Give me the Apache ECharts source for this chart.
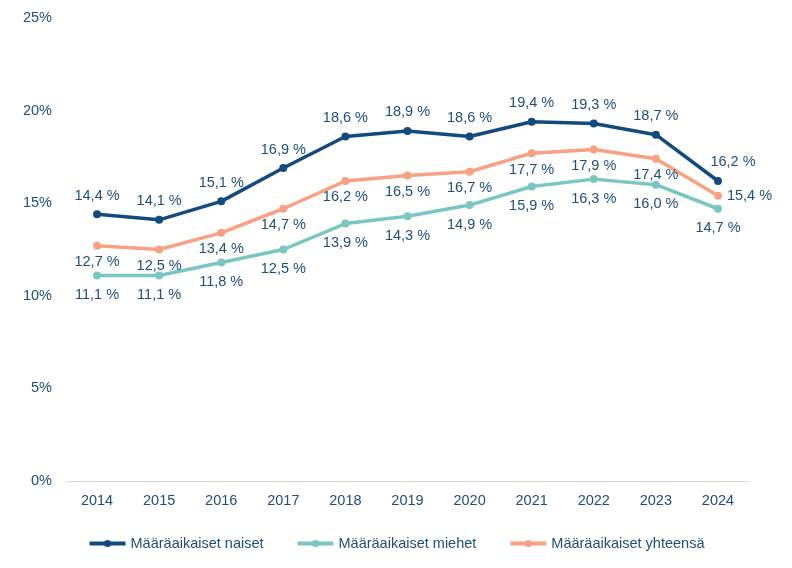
<!DOCTYPE html>
<html>
<head>
<meta charset="utf-8">
<script src="https://cdn.jsdelivr.net/npm/echarts@6/dist/echarts.min.js"></script>
<style>
    html, body { margin: 0; padding: 0; background: #fff; }
    #chart { width: 792px; height: 568px; }
</style>
</head>
<body>
<div id="chart"></div>
<script>
var years = ['2014', '2015', '2016', '2017', '2018', '2019', '2020', '2021', '2022', '2023', '2024'];
var naiset = [14.4, 14.1, 15.1, 16.9, 18.6, 18.9, 18.6, 19.4, 19.3, 18.7, 16.2];
var miehet = [11.1, 11.1, 11.8, 12.5, 13.9, 14.3, 14.9, 15.9, 16.3, 16.0, 14.7];
var yhteensa = [12.7, 12.5, 13.4, 14.7, 16.2, 16.5, 16.7, 17.7, 17.9, 17.4, 15.4];
var yTicks = [0, 5, 10, 15, 20, 25];

var textColor = '#1f4e79';
var font = 'Liberation Sans, Arial, sans-serif';

function fmt(v) {
    return v.toFixed(1).replace('.', ',') + ' %';
}

// viimeisen pisteen otsikko erikseen
function withLast(arr, lastLabel) {
    var out = [];
    for (var i = 0; i < arr.length; i++) {
        if (i === arr.length - 1 && lastLabel) {
            out.push({value: arr[i], label: lastLabel});
        } else {
            out.push(arr[i]);
        }
    }
    return out;
}

function makeSeries(name, data, color, pos, dist) {
    return {
        name: name,
        type: 'line',
        data: data,
        symbol: 'circle',
        symbolSize: 8,
        lineStyle: {width: 3.5, color: color},
        itemStyle: {color: color},
        label: {
            show: true,
            position: pos,
            distance: dist,
            color: textColor,
            fontSize: 14.5,
            fontFamily: font,
            formatter: function (p) { return fmt(p.value); }
        },
        emphasis: {disabled: true},
        animation: false
    };
}

var myChart = echarts.init(document.getElementById('chart'), null, {width: 792, height: 568});
var option = {
    backgroundColor: '#fff',
    grid: {left: 66, right: 43, top: 18, bottom: 87, containLabel: false},
    legend: {
        bottom: 12,
        left: 'center',
        itemWidth: 36,
        itemHeight: 9,
        itemGap: 32,
        lineStyle: {width: 4},
        textStyle: {color: textColor, fontSize: 14.5, fontFamily: font},
        data: ['Määräaikaiset naiset', 'Määräaikaiset miehet', 'Määräaikaiset yhteensä']
    },
    xAxis: {
        type: 'category',
        data: years,
        boundaryGap: true,
        axisLine: {lineStyle: {color: '#d9d9d9', width: 1}},
        axisTick: {show: false},
        axisLabel: {color: textColor, fontSize: 14.5, fontFamily: font, margin: 12}
    },
    yAxis: {
        type: 'value',
        min: yTicks[0],
        max: yTicks[yTicks.length - 1],
        interval: 5,
        splitLine: {show: false},
        axisLine: {show: false},
        axisTick: {show: false},
        axisLabel: {
            color: textColor, fontSize: 14.5, fontFamily: font, margin: 14,
            formatter: function (v) { return v + '%'; }
        }
    },
    series: [
        makeSeries('Määräaikaiset naiset', withLast(naiset, {offset: [15, 0]}), '#144a7d', 'top', 7),
        makeSeries('Määräaikaiset miehet', miehet, '#7ac7c2', 'bottom', 8),
        makeSeries('Määräaikaiset yhteensä', withLast(yhteensa, {position: 'right', distance: 5}), '#f9a182', 'bottom', 5)
    ]
};
myChart.setOption(option, false);
</script>
</body>
</html>
